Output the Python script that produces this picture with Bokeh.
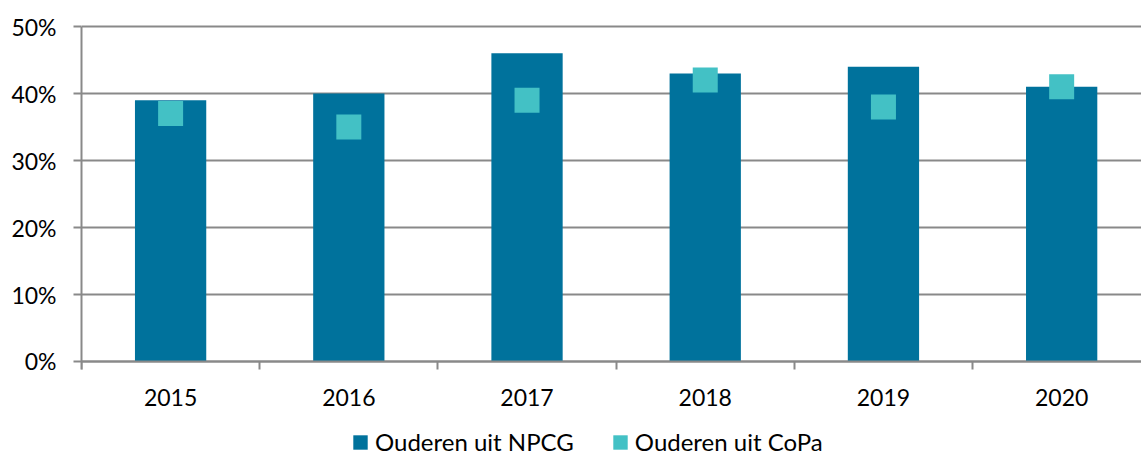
from bokeh.plotting import figure
from bokeh.models import Range1d, FixedTicker, LinearAxis, Legend, LegendItem, Grid
from bokeh.embed import file_html
from bokeh.resources import INLINE

years = ["2015", "2016", "2017", "2018", "2019", "2020"]
npcg = [0.39, 0.40, 0.46, 0.43, 0.44, 0.41]
copa = [0.37, 0.35, 0.39, 0.42, 0.38, 0.41]
y_ticks = [0.0, 0.1, 0.2, 0.3, 0.4, 0.5]
y_labels = ["0%", "10%", "20%", "30%", "40%", "50%"]
series_names = ["Ouderen uit NPCG", "Ouderen uit CoPa"]

BAR = "#00729C"
MARK = "#43C1C5"
GRAY = "#898989"
FONT = "Lato"
FS = "23px"

xc = [i + 0.5 for i in range(len(years))]
bounds = list(range(len(years) + 1))

p = figure(width=1141, height=456, output_backend="svg", toolbar_location=None,
           x_range=Range1d(0, 5.948), y_range=Range1d(-0.1418, 0.506),
           x_axis_type=None, y_axis_type=None,
           min_border_left=81, min_border_top=22, min_border_right=0,
           min_border_bottom=0)
p.outline_line_color = None
p.background_fill_color = "white"
p.border_fill_color = "white"

yticker = FixedTicker(ticks=y_ticks)
p.add_layout(Grid(dimension=1, ticker=yticker, grid_line_color=GRAY, grid_line_width=2))

bars = p.vbar(x=xc, top=npcg, bottom=0, width=0.4, fill_color=BAR, line_color=None)
marks = p.rect(x=xc, y=copa, width=25, height=25, width_units="screen",
               height_units="screen", fill_color=MARK, line_color=None)

yaxis = LinearAxis(ticker=yticker, bounds=(-0.012, 0.5),
                   major_label_overrides={t: l for t, l in zip(y_ticks, y_labels)},
                   major_tick_out=8, major_tick_in=0, minor_tick_out=0, minor_tick_in=0,
                   axis_line_color=GRAY, axis_line_width=2,
                   major_tick_line_color=GRAY, major_tick_line_width=2,
                   major_label_standoff=17,
                   major_label_text_font=FONT, major_label_text_font_size=FS,
                   major_label_text_color="black")
p.add_layout(yaxis, "left")

xaxis = LinearAxis(fixed_location=0, ticker=FixedTicker(ticks=xc, minor_ticks=bounds),
                   major_label_overrides={t: l for t, l in zip(xc, years)},
                   major_tick_out=0, major_tick_in=0, minor_tick_out=8, minor_tick_in=0,
                   axis_line_color=GRAY, axis_line_width=2,
                   minor_tick_line_color=GRAY, minor_tick_line_width=2,
                   major_label_standoff=20,
                   major_label_text_font=FONT, major_label_text_font_size=FS,
                   major_label_text_color="black")
p.add_layout(xaxis, "below")

legend = Legend(items=[LegendItem(label=series_names[0], renderers=[bars]),
                       LegendItem(label=series_names[1], renderers=[marks])],
                orientation="horizontal", glyph_width=18, glyph_height=18,
                label_standoff=6, spacing=37, padding=0, margin=0,
                border_line_color=None, background_fill_alpha=0,
                label_text_font=FONT, label_text_font_size="24px",
                label_text_color="black", location=(270, 0))
p.add_layout(legend, "center")

open("out.html", "w").write(file_html(p, INLINE))
